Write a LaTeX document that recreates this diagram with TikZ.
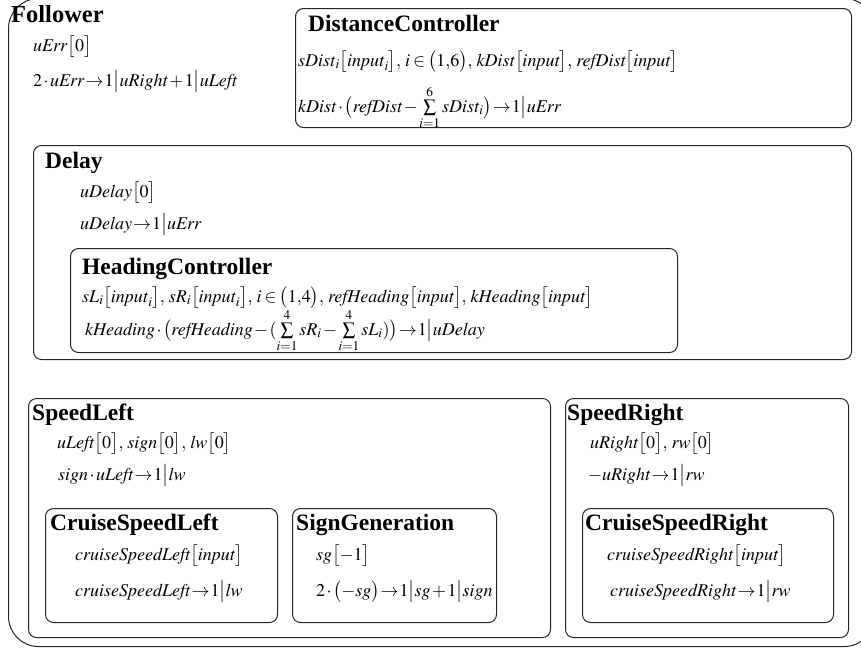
\documentclass[tikz,border=0pt]{standalone}
\usepackage{mathptmx}
\usepackage{fontspec}
\setmainfont{Liberation Serif}
\newcommand{\mv}[1]{\mathit{#1}}
\newcommand{\rarr}{\mathrel{\mkern-2mu\rightarrow\mkern-2mu}}
\medmuskip=1.5mu\relax
\thickmuskip=3mu\relax
\begin{document}
\begin{tikzpicture}[x=1pt,y=-1pt,
  box/.style={draw=black!85, line width=1pt, rounded corners=8pt, inner sep=0pt, anchor=north west},
  outer/.style={draw=black!85, line width=1pt, rounded corners=30pt, inner sep=0pt, anchor=north west},
  ttl/.style={anchor=base west, inner sep=0pt, font=\fontsize{23.5}{26}\selectfont\bfseries},
  eq/.style={anchor=base west, inner sep=0pt, font=\fontsize{18}{21}\selectfont}]
\useasboundingbox (0,0) rectangle (861,648);
% boxes
\node[outer, minimum width=866pt, minimum height=648pt] (follower) at (8,-2) {};
\node[box, minimum width=556pt, minimum height=119pt] (dc) at (295,8) {};
\node[box, minimum width=818pt, minimum height=214pt] (delay) at (33,145) {};
\node[box, minimum width=607pt, minimum height=104pt] (hc) at (70,248) {};
\node[box, minimum width=522pt, minimum height=239pt] (sl) at (28,398) {};
\node[box, minimum width=232pt, minimum height=114pt] (csl) at (45,508) {};
\node[box, minimum width=204pt, minimum height=114pt] (sg) at (292,508) {};
\node[box, minimum width=283pt, minimum height=239pt] (sr) at (565,398) {};
\node[box, minimum width=251pt, minimum height=114pt] (csr) at (582,508) {};
% Follower
\node[ttl, font=\fontsize{24.5}{27}\selectfont\bfseries] (tF) at (11,22) {Follower};
\node[eq] (f1) at (33,51) {$\mv{uErr}\bigl[0\bigr]$};
\node[eq] (f2) at (33,86) {$2\cdot\mv{uErr}\rarr 1\big|\mv{uRight}+1\big|\mv{uLeft}$};
% DistanceController
\node[ttl] (tD) at (308,31) {DistanceController};
\node[eq] (d1) at (298,66) {$\mv{sDist}_i\bigl[\mv{input}_i\bigr],\,i\in\bigl(1{,}6\bigr),\,\mv{kDist}\bigl[\mv{input}\bigr],\,\mv{refDist}\bigl[\mv{input}\bigr]$};
\node[eq] (d2) at (298,112) {$\mv{kDist}\cdot\bigl(\mv{refDist}-\sum\limits_{i=1}^{6}\mv{sDist}_i\bigr)\rarr 1\big|\mv{uErr}$};
% Delay
\node[ttl] (tDe) at (45,168) {Delay};
\node[eq] (de1) at (80,197) {$\mv{uDelay}\bigl[0\bigr]$};
\node[eq] (de2) at (80,229) {$\mv{uDelay}\rarr 1\big|\mv{uErr}$};
% HeadingController
\node[ttl] (tH) at (82,274) {HeadingController};
\node[eq] (h1) at (82,302) {$\mv{sL}_i\bigl[\mv{input}_i\bigr],\,\mv{sR}_i\bigl[\mv{input}_i\bigr],\,i\in\bigl(1{,}4\bigr),\,\mv{refHeading}\bigl[\mv{input}\bigr],\,\mv{kHeading}\bigl[\mv{input}\bigr]$};
\node[eq] (h2) at (85,335) {$\mv{kHeading}\cdot\bigl(\mv{refHeading}-(\sum\limits_{i=1}^{4}\mv{sR}_i-\sum\limits_{i=1}^{4}\mv{sL}_i)\bigr)\rarr 1\big|\mv{uDelay}$};
% SpeedLeft
\node[ttl] (tSL) at (32,420) {SpeedLeft};
\node[eq] (sl1) at (57,448) {$\mv{uLeft}\bigl[0\bigr],\,\mv{sign}\bigl[0\bigr],\,\mv{lw}\bigl[0\bigr]$};
\node[eq] (sl2) at (58,480) {$\mv{sign}\cdot\mv{uLeft}\rarr 1\big|\mv{lw}$};
% CruiseSpeedLeft
\node[ttl] (tCSL) at (50,530) {CruiseSpeedLeft};
\node[eq] (c1) at (75,560) {$\mv{cruiseSpeedLeft}\bigl[\mv{input}\bigr]$};
\node[eq] (c2) at (75,596) {$\mv{cruiseSpeedLeft}\rarr 1\big|\mv{lw}$};
% SignGeneration
\node[ttl] (tSG) at (296,530) {SignGeneration};
\node[eq] (g1) at (316,560) {$\mv{sg}\bigl[-1\bigr]$};
\node[eq] (g2) at (316,596) {$2\cdot\bigl(-\mv{sg}\bigr)\rarr 1\big|\mv{sg}+1\big|\mv{sign}$};
% SpeedRight
\node[ttl] (tSR) at (567,420) {SpeedRight};
\node[eq] (sr1) at (590,448) {$\mv{uRight}\bigl[0\bigr],\,\mv{rw}\bigl[0\bigr]$};
\node[eq] (sr2) at (588,480) {$-\mv{uRight}\rarr 1\big|\mv{rw}$};
% CruiseSpeedRight
\node[ttl] (tCSR) at (585,530) {CruiseSpeedRight};
\node[eq] (r1) at (607,560) {$\mv{cruiseSpeedRight}\bigl[\mv{input}\bigr]$};
\node[eq] (r2) at (610,596) {$\mv{cruiseSpeedRight}\rarr 1\big|\mv{rw}$};
\end{tikzpicture}
\end{document}
